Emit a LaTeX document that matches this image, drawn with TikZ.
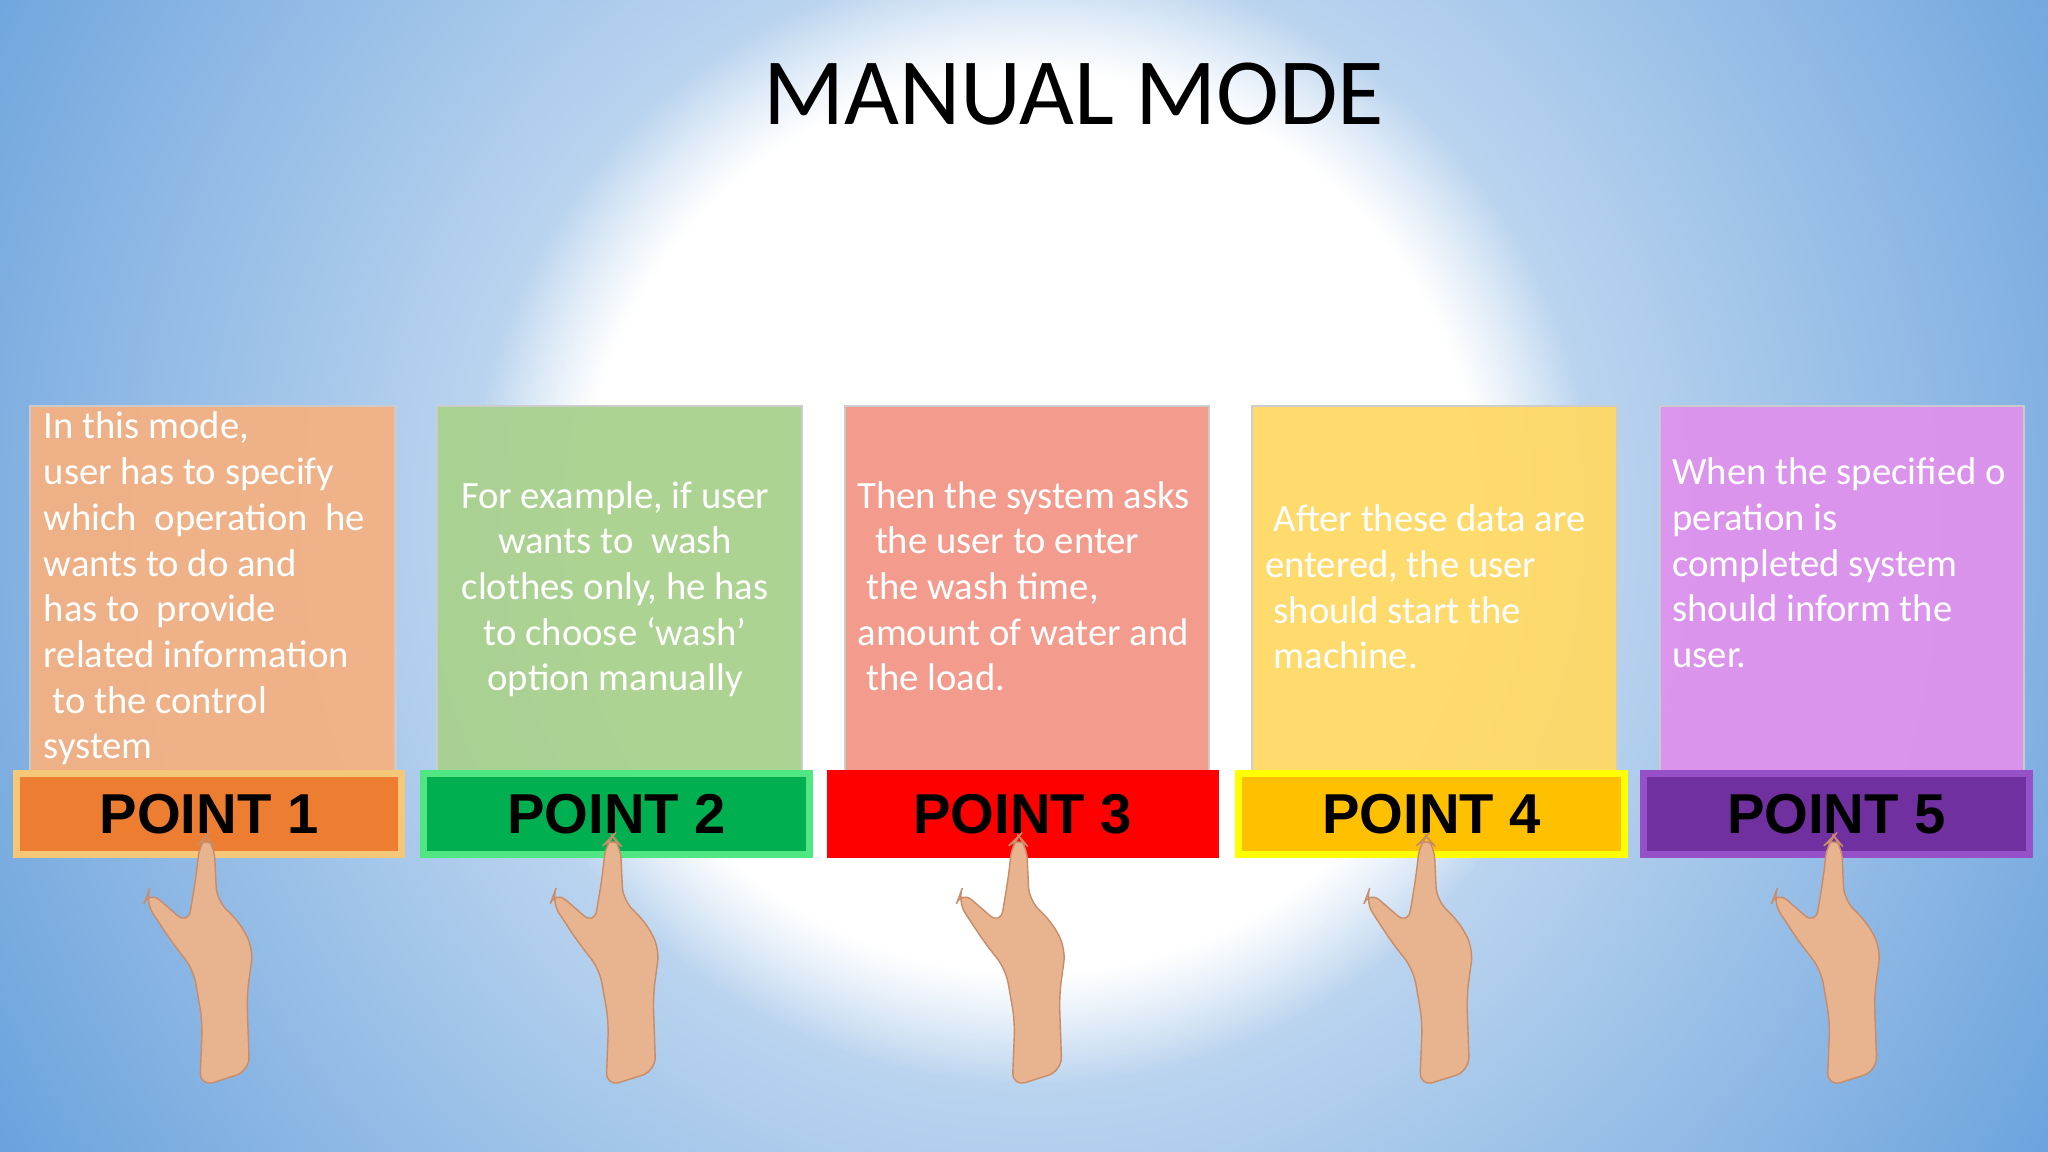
\documentclass[tikz,border=0pt]{standalone}
\usepackage{fontspec}
\usetikzlibrary{fadings}
\setmainfont{Carlito}
\newfontfamily\pointfont{Liberation Sans}
\definecolor{bgblue}{RGB}{95,155,218}
\definecolor{skin}{RGB}{232,180,143}
\definecolor{skindark}{RGB}{200,140,105}
\tikzset{
  x=0.013061cm, y=-0.013061cm,
  card/.style={draw=white!80!black, line width=0.6pt, opacity=0.95},
  bar/.style={line width=2pt},
  cardtext/.style={text=white, font=\fontsize{11}{13}\selectfont, inner sep=0pt, anchor=north west},
  ptext/.style={font=\pointfont\bfseries\fontsize{16}{18}\selectfont, text=black},
  hand/.pic={
    \fill[skin, draw=skindark, line width=0.4pt, rounded corners=4]
      (0,-2) -- (6,5) -- (8,48) -- (24,62) -- (36,84) -- (31,120) -- (33,178)
      -- (-5,190) -- (-3,140) -- (-10,100) -- (-26,80) -- (-47,48) -- (-44,40)
      -- (-14,66) -- (-8,30) -- (-5,3) -- cycle;
  }
}
\begin{document}
\begin{tikzpicture}
\useasboundingbox (0,0) rectangle (1568,882);
\begin{scope}
\clip (0,0) rectangle (1568,882);
\fill[bgblue] (0,0) rectangle (1568,882);
\shade[inner color=white, outer color=bgblue] (790,400) circle (1000);
\fill[white, path fading=circle with fuzzy edge 20 percent] (790,400) circle (430);
\end{scope}
\node[font=\fontsize{27}{30}\selectfont] (title) at (822,72) {MANUAL MODE};

% cards
\node[card, fill={rgb,255:red,244;green,177;blue,131}, minimum width=280*0.013061cm, minimum height=280*0.013061cm, anchor=north west] (c1) at (22,310) {};
\node[card, fill={rgb,255:red,169;green,209;blue,142}, minimum width=279*0.013061cm, minimum height=280*0.013061cm, anchor=north west] (c2) at (334,310) {};
\node[card, fill={rgb,255:red,243;green,150;blue,135}, minimum width=279*0.013061cm, minimum height=280*0.013061cm, anchor=north west] (c3) at (646,310) {};
\node[card, fill={rgb,255:red,255;green,217;blue,102}, minimum width=279*0.013061cm, minimum height=280*0.013061cm, anchor=north west] (c4) at (958,310) {};
\node[card, fill={rgb,255:red,222;green,146;blue,236}, minimum width=279*0.013061cm, minimum height=280*0.013061cm, anchor=north west] (c5) at (1270,310) {};

\node[cardtext, align=left] (t1) at (33,315) {In this mode,\\user has to specify\\which\ \ operation\ \ he\\wants to do and\\has to\ \ provide\\related information\\\ to the control\\system};
\node[cardtext, align=center, anchor=north] (t2) at (471,368) {For example, if user\\wants to\ \ wash\\clothes only, he has\\to choose ‘wash’\\option manually};
\node[cardtext, align=left] (t3) at (656,368) {Then the system asks\\\ \ the user to enter\\\ the wash time,\\amount of water and\\\ the load.};
\node[cardtext, align=left] (t4) at (968,386) {\ After these data are\\entered, the user\\\ should start the\\\ machine.};
\node[cardtext, align=left] (t5) at (1280,350) {When the specified o\\peration is\\completed system\\should inform the\\user.};

% bars
\node[bar, draw={rgb,255:red,244;green,200;blue,120}, fill={rgb,255:red,237;green,125;blue,49}, minimum width=295*0.013061cm, minimum height=62*0.013061cm, ptext] (p1) at (160,623) {POINT 1};
\node[bar, draw={rgb,255:red,80;green,230;blue,130}, fill={rgb,255:red,0;green,176;blue,80}, minimum width=295*0.013061cm, minimum height=62*0.013061cm, ptext] (p2) at (472,623) {POINT 2};
\node[bar, draw={rgb,255:red,255;green,0;blue,0}, fill={rgb,255:red,255;green,0;blue,0}, minimum width=295*0.013061cm, minimum height=62*0.013061cm, ptext] (p3) at (783,623) {POINT 3};
\node[bar, draw={rgb,255:red,255;green,255;blue,0}, fill={rgb,255:red,255;green,192;blue,0}, minimum width=295*0.013061cm, minimum height=62*0.013061cm, ptext] (p4) at (1096,623) {POINT 4};
\node[bar, draw={rgb,255:red,150;green,80;blue,200}, fill={rgb,255:red,112;green,48;blue,160}, minimum width=295*0.013061cm, minimum height=62*0.013061cm, ptext] (p5) at (1406,623) {POINT 5};

% hands
\pic at (158,642) {hand};
\pic at (469,642) {hand};
\pic at (780,642) {hand};
\pic at (1092,642) {hand};
\pic at (1404,642) {hand};
\end{tikzpicture}
\end{document}
